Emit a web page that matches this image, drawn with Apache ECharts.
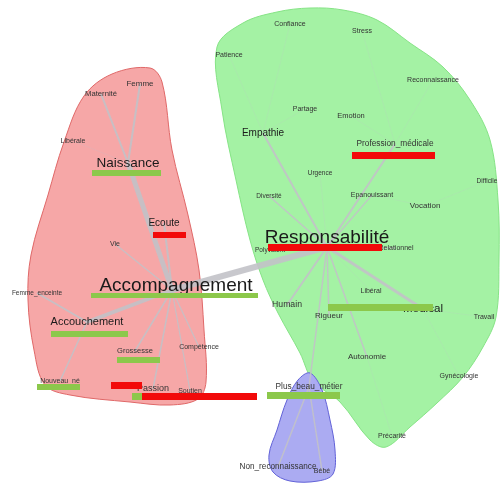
<!DOCTYPE html>
<html>
<head>
<meta charset="utf-8">
<script src="https://cdn.jsdelivr.net/npm/echarts@6/dist/echarts.min.js"></script>
<style>
  html,body{margin:0;padding:0;background:#fff;}
  #graphe{width:501px;height:483px;}
</style>
</head>
<body>
<div id="graphe"></div>
<script>
// noeuds du graphe de similitude
var mots = ['Accompagnement','Naissance','Ecoute','Accouchement','Passion','Grossesse','Nouveau_né','Femme_enceinte','Vie','Compétence','Soutien','Maternité','Femme','Libérale',
  'Responsabilité','Empathie','Profession_médicale','Médical','Humain','Rigueur','Libéral','Autonomie','Travail','Gynécologie','Précarité','Vocation','Difficile','Relationnel','Polyvalent','Diversité','Urgence','Epanouissant','Partage','Emotion','Stress','Confiance','Patience','Reconnaissance',
  'Plus_beau_métier','Non_reconnaissance','Bébé'];
var posX = [172,128,164,87,153,135,60,37,115,199,190,101,140,73,
  327,263,395,423,287,329,371,367,484,459,392,425,487,396,270,269,320,372,305,351,362,290,229,433,
  309,278,322];
var posY = [290,163,223,322,389,351,381,293,244,347,391,94,84,141,
  247,133,144,309,305,316,291,357,317,376,436,206,181,248,250,196,173,195,109,116,31,24,55,80,
  387,467,471];
// taille du texte (effectif)
var taille = [19,13.5,10,11,9,7.5,7,6.5,7,7,7,7.7,8,7,
  19,10,8.3,11.6,8.7,8,7,8,7,7,7,8,6.5,7,6.5,6.5,6.5,7,7,7.5,7,7,7,7,
  8.3,8.2,7];

// aretes : source, cible, epaisseur
var srcs = ['Accompagnement','Accompagnement','Accompagnement','Accompagnement','Accompagnement','Accompagnement','Accompagnement','Accompagnement','Accompagnement',
  'Naissance','Naissance','Naissance','Accouchement','Accouchement',
  'Responsabilité','Responsabilité','Responsabilité','Responsabilité','Responsabilité','Responsabilité','Responsabilité','Responsabilité','Responsabilité','Responsabilité','Responsabilité','Responsabilité','Responsabilité',
  'Profession_médicale','Profession_médicale','Profession_médicale','Empathie','Empathie','Empathie','Médical','Médical','Autonomie','Vocation','Epanouissant',
  'Plus_beau_métier','Plus_beau_métier'];
var cibles = ['Responsabilité','Naissance','Accouchement','Ecoute','Vie','Grossesse','Passion','Compétence','Soutien',
  'Maternité','Femme','Libérale','Femme_enceinte','Nouveau_né',
  'Empathie','Profession_médicale','Médical','Humain','Rigueur','Autonomie','Plus_beau_métier','Diversité','Urgence','Epanouissant','Polyvalent','Relationnel','Libéral',
  'Emotion','Reconnaissance','Stress','Patience','Confiance','Partage','Travail','Gynécologie','Précarité','Difficile','Vocation',
  'Non_reconnaissance','Bébé'];
var poids = [6,5,3.5,2,1.2,1.5,1.5,1.2,1.2,
  2,2,0.6,2,1.5,
  2,2,3,2,1.5,1.5,1.5,1.5,0.6,1.2,1.2,1,0.5,
  0.5,0.5,0.5,0.5,0.5,0.5,0.5,0.5,0.5,0.5,0.5,
  1.5,1.5];

// enveloppes des classes
var enveloppeRouge = [[150,68],[162,82],[172,150],[188,215],[199,270],[204,330],[206,382],[198,399],[170,405],[130,402],[70,395],[45,385],[34,350],[28,300],[31,255],[48,195],[64,142],[84,96],[112,74]];
var enveloppeVerte = [[217,47],[243,23],[277,12],[310,8],[343,10],[377,20],[410,43],[443,67],[470,100],[490,140],[498,200],[499,260],[496,317],[483,347],[463,377],[437,403],[410,427],[386,447],[370,440],[340,402],[313,381],[300,353],[278,313],[263,280],[250,240],[236,180],[222,110]];
var enveloppeBleue = [[310,373],[298,380],[287,400],[277,430],[269,455],[273,472],[290,481],[318,481],[333,474],[335,450],[330,420],[322,390]];
var enveloppes = [enveloppeRouge, enveloppeVerte, enveloppeBleue];
var fonds = ['#F6A7A7','#A4F2A4','#ABABF2'];
var bords = ['#E06868','#86E486','#6262D8'];

// bandes de surlignage [x0, y0, x1, y1]
var bandesVertes = [[92,170,161,176],[91,293,258,298],[51,331,128,337],[117,357,160,363],[37,384,80,390],[132,393,142,400],[328,304,433,311],[267,392,340,399]];
var bandesRouges = [[153,232,186,238],[111,382,142,389],[142,393,257,400],[352,152,435,159],[268,244,382,251]];

var decal = {'Accompagnement':[4,-4],'Responsabilité':[0,-9]};

var myChart = echarts.init(document.getElementById('graphe'));

var noeuds = mots.map(function(m, i){
  return {
    name: m,
    value: [posX[i], posY[i]],
    label: {fontSize: taille[i], offset: decal[m] || [0,0], color: taille[i] > 9 ? '#1a1a1a' : '#333'}
  };
});
var liens = srcs.map(function(s, i){
  return {
    source: s, target: cibles[i],
    lineStyle: {width: poids[i], opacity: poids[i] < 1 ? 0.35 : 0.9}
  };
});

function bande(couleur){
  return function(params, api){
    var a = api.coord([api.value(0), api.value(1)]);
    var b = api.coord([api.value(2), api.value(3)]);
    return {type:'rect', shape:{x:a[0], y:a[1], width:b[0]-a[0], height:b[1]-a[1]}, style:{fill:couleur}};
  };
}

myChart.setOption({
  animation: false,
  backgroundColor: '#fff',
  textStyle: {fontFamily: 'Liberation Sans, Arial, sans-serif'},
  grid: {left:0, right:0, top:0, bottom:0},
  xAxis: {type:'value', min:0, max:501, show:false},
  yAxis: {type:'value', min:0, max:483, inverse:true, show:false},
  series: [
    {
      type: 'custom',
      z: 1,
      clip: false,
      data: enveloppes.map(function(e, i){ return [i]; }),
      renderItem: function(params, api){
        var k = params.dataIndex;
        var pts = enveloppes[k].map(function(p){ return api.coord(p); });
        return {type:'polygon', shape:{points:pts, smooth:0.35}, style:{fill:fonds[k], stroke:bords[k], lineWidth:1}};
      }
    },
    {
      type: 'graph',
      coordinateSystem: 'cartesian2d',
      z: 2,
      symbol: 'circle',
      symbolSize: 1,
      itemStyle: {color: 'rgba(0,0,0,0)'},
      label: {show:true, position:'inside', formatter:'{b}', fontFamily:'Liberation Sans, Arial, sans-serif'},
      lineStyle: {color:'#c2c2c8', curveness:0},
      data: noeuds,
      links: liens
    },
    {type:'custom', z:3, clip:false, data:bandesVertes, renderItem: bande('#8CC84B')},
    {type:'custom', z:3, clip:false, data:bandesRouges, renderItem: bande('#F20A0A')}
  ]
});
</script>
</body>
</html>
